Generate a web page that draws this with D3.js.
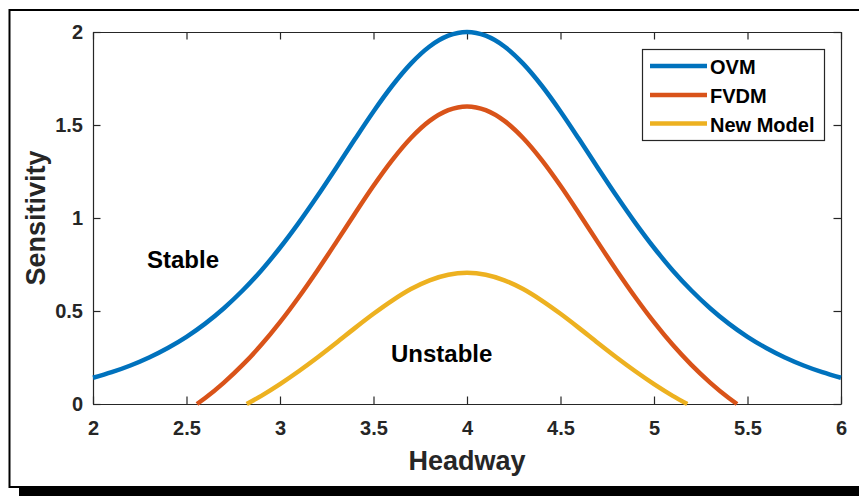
<!DOCTYPE html>
<html>
<head>
<meta charset="utf-8">
<script src="https://cdn.jsdelivr.net/npm/d3@7"></script>
<style>
  body { margin: 0; background: #fff; }
  svg { display: block; font-family: "Liberation Sans", Arial, Helvetica, sans-serif; }
</style>
</head>
<body>
<svg id="chart" width="859" height="496"></svg>
<script>
// values
const seriesNames = ["OVM", "FVDM", "New Model"];
const seriesColors = ["#0072BD", "#D95319", "#EDB120"];

const ovmHeadway = [2.0, 2.1, 2.2, 2.3, 2.4, 2.5, 2.6, 2.7, 2.8, 2.9, 3.0, 3.1, 3.2, 3.3, 3.4, 3.5, 3.6, 3.7, 3.8, 3.9, 4.0,
  4.1, 4.2, 4.3, 4.4, 4.5, 4.6, 4.7, 4.8, 4.9, 5.0, 5.1, 5.2, 5.3, 5.4, 5.5, 5.6, 5.7, 5.8, 5.9, 6.0];
const ovmSens = [0.141, 0.171, 0.207, 0.250, 0.301, 0.361, 0.432, 0.515, 0.610, 0.718, 0.840, 0.974, 1.118, 1.269, 1.423, 1.573, 1.711, 1.830, 1.922, 1.980, 2.000,
  1.980, 1.922, 1.830, 1.711, 1.573, 1.423, 1.269, 1.118, 0.974, 0.840, 0.718, 0.610, 0.515, 0.432, 0.361, 0.301, 0.250, 0.207, 0.171, 0.141];

const fvdmHeadway = [2.556, 2.6, 2.7, 2.8, 2.9, 3.0, 3.1, 3.2, 3.3, 3.4, 3.5, 3.6, 3.7, 3.8, 3.9, 4.0,
  4.1, 4.2, 4.3, 4.4, 4.5, 4.6, 4.7, 4.8, 4.9, 5.0, 5.1, 5.2, 5.3, 5.4, 5.444];
const fvdmSens = [0, 0.032, 0.115, 0.210, 0.318, 0.440, 0.574, 0.718, 0.869, 1.023, 1.173, 1.311, 1.430, 1.522, 1.580, 1.600,
  1.580, 1.522, 1.430, 1.311, 1.173, 1.023, 0.869, 0.718, 0.574, 0.440, 0.318, 0.210, 0.115, 0.032, 0];

const newHeadway = [2.822, 2.9, 3.0, 3.1, 3.2, 3.3, 3.4, 3.5, 3.6, 3.7, 3.8, 3.9, 4.0,
  4.1, 4.2, 4.3, 4.4, 4.5, 4.6, 4.7, 4.8, 4.9, 5.0, 5.1, 5.178];
const newSens = [0, 0.044, 0.107, 0.176, 0.250, 0.328, 0.408, 0.485, 0.556, 0.618, 0.665, 0.695, 0.705,
  0.695, 0.665, 0.618, 0.556, 0.485, 0.408, 0.328, 0.250, 0.176, 0.107, 0.044, 0];

const xTicks = [2, 2.5, 3, 3.5, 4, 4.5, 5, 5.5, 6];
const yTicks = [0, 0.5, 1, 1.5, 2];

const margin = {left: 93, right: 18, top: 32, bottom: 92};
const W = 859, H = 496;
const axisColor = "#262626";

const svg = d3.select("#chart");

// figure frame with shadow
svg.append("rect")
  .attr("x", 19).attr("y", 487).attr("width", 860).attr("height", 20)
  .attr("fill", "#000");
svg.append("rect")
  .attr("x", 9.5).attr("y", 10).attr("width", 870).attr("height", 477)
  .attr("fill", "#fff").attr("stroke", "#000").attr("stroke-width", 2);

const x = d3.scaleLinear().domain([2, 6]).range([margin.left, W - margin.right]);
const y = d3.scaleLinear().domain([0, 2]).range([H - margin.bottom, margin.top]);

const tickLen = 7.5;

function styleAxis(g) {
  g.select(".domain").attr("stroke", axisColor).attr("stroke-width", 1.2);
  g.selectAll(".tick line").attr("stroke", axisColor).attr("stroke-width", 1.2);
  g.selectAll(".tick text")
    .attr("fill", axisColor)
    .style("font-size", "20px")
    .style("font-weight", "bold")
    .style("font-family", "'Liberation Sans', Arial, Helvetica, sans-serif");
}

svg.append("g")
  .attr("transform", `translate(0,${y(0)})`)
  .call(d3.axisBottom(x).tickValues(xTicks).tickFormat(d => d)
    .tickSizeInner(-tickLen).tickSizeOuter(0).tickPadding(17))
  .call(styleAxis);

svg.append("g")
  .attr("transform", `translate(0,${y(2)})`)
  .call(d3.axisTop(x).tickValues(xTicks).tickFormat("")
    .tickSizeInner(-tickLen).tickSizeOuter(0))
  .call(styleAxis);

svg.append("g")
  .attr("transform", `translate(${x(2)},0)`)
  .call(d3.axisLeft(y).tickValues(yTicks).tickFormat(d => d)
    .tickSizeInner(-tickLen).tickSizeOuter(0).tickPadding(10))
  .call(styleAxis);

svg.append("g")
  .attr("transform", `translate(${x(6)},0)`)
  .call(d3.axisRight(y).tickValues(yTicks).tickFormat("")
    .tickSizeInner(-tickLen).tickSizeOuter(0))
  .call(styleAxis);

// curves
const line = d3.line()
  .x(d => x(d[0]))
  .y(d => y(d[1]))
  .curve(d3.curveMonotoneX);

const series = [
  d3.zip(ovmHeadway, ovmSens),
  d3.zip(fvdmHeadway, fvdmSens),
  d3.zip(newHeadway, newSens)
];

svg.append("g")
  .selectAll("path")
  .data(series)
  .join("path")
  .attr("d", line)
  .attr("fill", "none")
  .attr("stroke", (d, i) => seriesColors[i])
  .attr("stroke-width", 4.5);

// axis labels
svg.append("text")
  .text("Headway")
  .attr("x", (x(2) + x(6)) / 2)
  .attr("y", 470)
  .attr("text-anchor", "middle")
  .attr("fill", axisColor)
  .style("font-size", "27px")
  .style("font-weight", "bold");

svg.append("text")
  .text("Sensitivity")
  .attr("transform", `translate(45,${(y(0) + y(2)) / 2}) rotate(-90)`)
  .attr("text-anchor", "middle")
  .attr("fill", axisColor)
  .style("font-size", "27px")
  .style("font-weight", "bold");

// region annotations
svg.append("text")
  .text("Stable")
  .attr("x", 147).attr("y", 268)
  .attr("fill", "#000")
  .style("font-size", "24px")
  .style("font-weight", "bold");

svg.append("text")
  .text("Unstable")
  .attr("x", 391).attr("y", 362)
  .attr("fill", "#000")
  .style("font-size", "24px")
  .style("font-weight", "bold");

// legend
const legend = svg.append("g");
legend.append("rect")
  .attr("x", 642.5).attr("y", 49.5).attr("width", 182).attr("height", 91)
  .attr("fill", "#fff").attr("stroke", axisColor).attr("stroke-width", 1.2);

const rowY = [66, 95, 123.5];
const rows = legend.selectAll("g.row")
  .data(seriesNames)
  .join("g")
  .attr("class", "row")
  .attr("transform", (d, i) => `translate(0,${rowY[i]})`);

rows.append("line")
  .attr("x1", 650).attr("x2", 707)
  .attr("stroke", (d, i) => seriesColors[i])
  .attr("stroke-width", 4.5);

rows.append("text")
  .text(d => d)
  .attr("x", 710).attr("y", 8.3)
  .attr("fill", "#000")
  .style("font-size", "20px")
  .style("font-weight", "bold");
</script>
</body>
</html>
